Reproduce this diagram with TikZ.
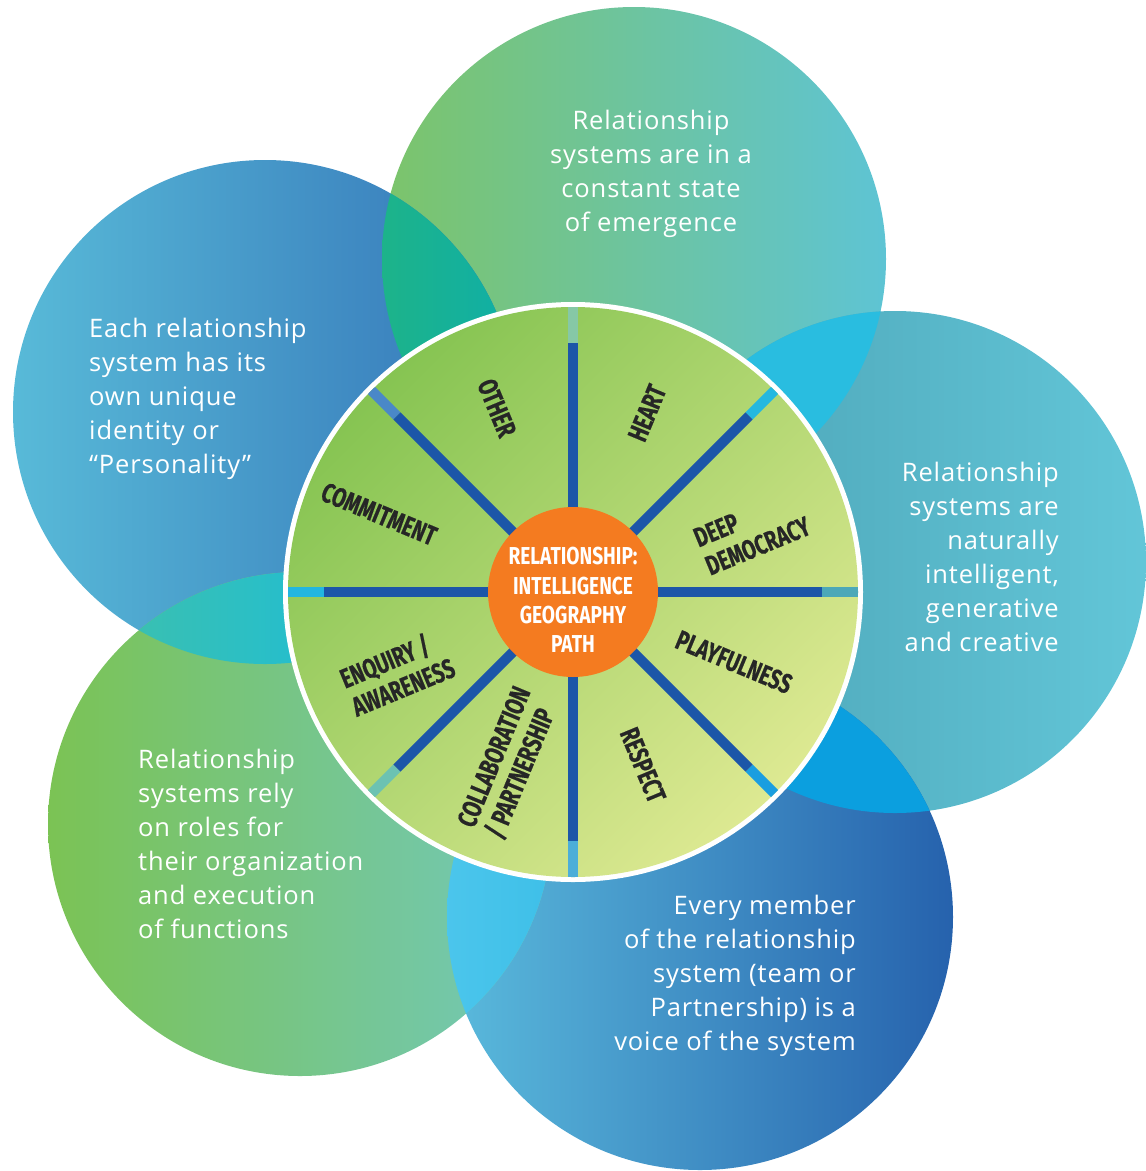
\documentclass[tikz,border=0pt]{standalone}
\usepackage{fontspec}
\usetikzlibrary{calc}
\setmainfont[LetterSpace=3.5]{Open Sans}
\newfontfamily\wheelfont[FakeStretch=0.72, FakeBold=0.4]{Fira Sans}
\newfontfamily\hubfont[FakeStretch=0.78]{Fira Sans}

% petal gradients
\definecolor{topA}{HTML}{7CC46A}
\definecolor{topB}{HTML}{5EC4D4}
\definecolor{leftA}{HTML}{58BAD8}
\definecolor{leftB}{HTML}{3474B8}
\definecolor{rightA}{HTML}{4BA2B4}
\definecolor{rightB}{HTML}{62C6D8}
\definecolor{brA}{HTML}{5ABADC}
\definecolor{brB}{HTML}{2662AD}
\definecolor{blA}{HTML}{7BC354}
\definecolor{blB}{HTML}{72C8BC}
% overlap tints
\definecolor{ovLTa}{HTML}{1DB389}
\definecolor{ovLTb}{HTML}{0FAFA8}
\definecolor{ovTR}{HTML}{29BDE0}
\definecolor{ovRB}{HTML}{0B9FDF}
\definecolor{ovBBa}{HTML}{4CC6EC}
\definecolor{ovBBb}{HTML}{3DBFE8}
\definecolor{ovBLa}{HTML}{3CC0AE}
\definecolor{ovBLb}{HTML}{18BDDF}
% wheel
\definecolor{wheelA}{HTML}{86C452}
\definecolor{wheelB}{HTML}{DDE992}
\definecolor{spokeblue}{HTML}{1C56A8}
\definecolor{hubOrange}{HTML}{F47B20}
\definecolor{labelgray}{HTML}{262626}
\definecolor{tipN}{HTML}{86C8A6}
\definecolor{tipNE}{HTML}{24B8E0}
\definecolor{tipE}{HTML}{4CA8B8}
\definecolor{tipSE}{HTML}{1A9EE0}
\definecolor{tipS}{HTML}{4CAED8}
\definecolor{tipSW}{HTML}{6CC2B2}
\definecolor{tipW}{HTML}{22B6E0}
\definecolor{tipNW}{HTML}{4A88C8}

\begin{document}
\begin{tikzpicture}[x=1pt,y=-1pt,
  petaltext/.style={text=white, inner sep=0pt,
    font=\fontsize{25.5}{34}\selectfont},
  wheellabel/.style={text=labelgray, inner sep=0pt, align=left,
    font={\wheelfont\bfseries\fontsize{27.5}{30.5}\selectfont}},
  hubtext/.style={text=white, inner sep=0pt, align=center,
    font={\hubfont\bfseries\fontsize{24.5}{29.3}\selectfont}},
  spoke/.style={line width=10pt}
]
\useasboundingbox (0,0) rectangle (1146,1171);

% five petals
\shade[left color=topA, right color=topB] (634,259) circle (252);
\shade[left color=leftA, right color=leftB] (265,412) circle (252);
\shade[left color=rightA, right color=rightB] (895,562) circle (251);
\shade[left color=brA, right color=brB] (700,917) circle (253);
\shade[left color=blA, right color=blB] (300,824) circle (252);

% overlapping lenses
\begin{scope}
  \clip (265,412) circle (252);
  \clip (634,259) circle (252);
  \shade[left color=ovLTa, right color=ovLTb] (380,150) rectangle (520,470);
\end{scope}
\begin{scope}
  \clip (634,259) circle (252);
  \fill[ovTR] (895,562) circle (251);
\end{scope}
\begin{scope}
  \clip (895,562) circle (251);
  \fill[ovRB] (700,917) circle (253);
\end{scope}
\begin{scope}
  \clip (700,917) circle (253);
  \clip (300,824) circle (252);
  \shade[left color=ovBBa, right color=ovBBb] (440,660) rectangle (560,1080);
\end{scope}
\begin{scope}
  \clip (300,824) circle (252);
  \clip (265,412) circle (252);
  \shade[left color=ovBLa, right color=ovBLb] (110,560) rectangle (420,670);
\end{scope}

% petal statements
\node[petaltext, align=center] (emergence) at (651,174)
  {Relationship\\systems are in a\\constant state\\of emergence};
\node[petaltext, align=left, anchor=west] (identity) at (89,399)
  {Each relationship\\system has its\\own unique\\identity or\\“Personality”};
\node[petaltext, align=right, anchor=east] (intelligent) at (1059,557)
  {Relationship\\systems are\\naturally\\intelligent,\\generative\\and creative};
\node[petaltext, align=left, anchor=west] (roles) at (138,844)
  {Relationship\\systems rely\\on roles for\\their organization\\and execution\\of functions};
\node[petaltext, align=right, anchor=east] (voice) at (856,976)
  {Every member\\of the relationship\\system (team or\\Partnership) is a\\voice of the system};

% the wheel
\coordinate (c) at (573,592);
\fill[white] (c) circle (290);
\shade[top color=wheelA, bottom color=wheelB, shading angle=45] (c) circle (285);

\begin{scope}
  \clip (c) circle (285);
  \foreach \a/\tip in {90/tipN, 45/tipNE, 0/tipE, -45/tipSE, -90/tipS,
                       -135/tipSW, 180/tipW, 135/tipNW} {
    \draw[spoke, \tip] ($(c)+({249*cos(\a)},{-249*sin(\a)})$)
      -- ($(c)+({295*cos(\a)},{-295*sin(\a)})$);
    \draw[spoke, spokeblue] (c) -- ($(c)+({249*cos(\a)},{-249*sin(\a)})$);
  }
\end{scope}

% hub
\node[circle, fill=hubOrange, minimum size=170pt, inner sep=0pt] (hub) at (c) {};
\node[hubtext] (hublabel) at (573,600)
  {RELATIONSHIP:\\INTELLIGENCE\\GEOGRAPHY\\PATH};

% segment labels
\node[wheellabel, rotate=-67.5] (other) at (497,408) {OTHER};
\node[wheellabel, rotate=67.5] (heart) at (647,413) {HEART};
\node[wheellabel, rotate=22.5] (democracy) at (752,532) {DEEP\\DEMOCRACY};
\node[wheellabel, rotate=-22.5] (playful) at (734,662) {PLAYFULNESS};
\node[wheellabel, rotate=-67.5] (respect) at (643,765) {RESPECT};
\node[wheellabel, rotate=67.5] (collab) at (509,763) {COLLABORATION\\/ PARTNERSHIP};
\node[wheellabel, rotate=22.5] (enquiry) at (397,672) {ENQUIRY /\\AWARENESS};
\node[wheellabel, rotate=-22.5] (commit) at (379,514) {COMMITMENT};
\end{tikzpicture}
\end{document}
